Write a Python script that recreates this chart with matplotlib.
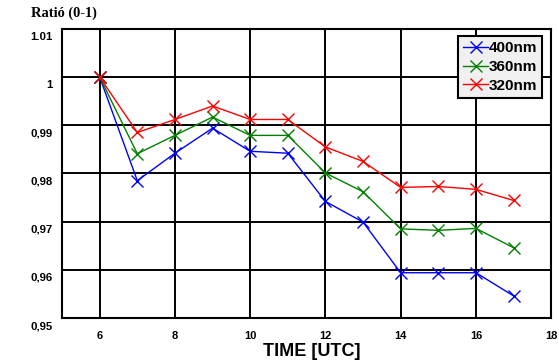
import matplotlib.pyplot as plt
import matplotlib.transforms as mtransforms

# ── data ─────────────────────────────────────────────
hours = [6, 7, 8, 9, 10, 11, 12, 13, 14, 15, 16, 17]
ratio_400 = [1.0, 0.9785, 0.9842, 0.9894, 0.9846, 0.9842, 0.9742, 0.9699, 0.9594, 0.9594, 0.9594, 0.9546]
ratio_360 = [1.0, 0.9841, 0.9879, 0.9917, 0.9879, 0.9879, 0.9801, 0.9762, 0.9685, 0.9682, 0.9686, 0.9646]
ratio_320 = [1.0, 0.9885, 0.9912, 0.9940, 0.9912, 0.9912, 0.9855, 0.9825, 0.9771, 0.9773, 0.9767, 0.9744]

x_ticks = [6, 8, 10, 12, 14, 16, 18]
y_ticks = [0.95, 0.96, 0.97, 0.98, 0.99, 1.0, 1.01]
y_labels = ["0,95", "0,96", "0,97", "0,98", "0,99", "1", "1.01"]

SANS = ["Liberation Sans", "DejaVu Sans"]
SERIF = ["Liberation Serif", "DejaVu Serif"]

fig = plt.figure(figsize=(5.59, 3.61), dpi=100)
ax = fig.add_axes([0.111, 0.119, 0.875, 0.801])

series = [
    (ratio_400, "#0000ff", "400nm"),
    (ratio_360, "#008000", "360nm"),
    (ratio_320, "#ff0000", "320nm"),
]
for vals, col, lab in series:
    ax.plot(hours, vals, color=col, lw=1.0, marker="x", ms=9, mew=1.0, label=lab)

ax.set_xlim(5, 18)
ax.set_ylim(0.95, 1.01)
ax.set_xticks(x_ticks)
ax.set_yticks(y_ticks)
ax.set_yticklabels(y_labels)
ax.grid(True, color="black", lw=1.4)
ax.set_axisbelow(True)
ax.tick_params(length=0, labelsize=8.2, pad=7)
ax.tick_params(axis="x", labelsize=8, pad=9)
for lab in ax.get_xticklabels() + ax.get_yticklabels():
    lab.set_fontfamily(SANS)
    lab.set_fontweight("bold")

# y labels sit a little below their grid line
off = mtransforms.ScaledTranslation(0, -7 / 100, fig.dpi_scale_trans)
for lab in ax.get_yticklabels():
    lab.set_transform(lab.get_transform() + off)

for sp in ax.spines.values():
    sp.set_linewidth(1.5)

ax.set_xlabel("TIME [UTC]", fontsize=13, fontweight="bold", family=SANS)
ax.xaxis.set_label_coords(0.51, -0.085)
ax.xaxis.label.set_va("top")
fig.text(0.055, 0.945, "Ratió (0-1)", fontsize=10.4, fontweight="bold", family=SERIF,
         ha="left", va="bottom")

leg = ax.legend(loc="upper right", bbox_to_anchor=(0.982, 0.975), fancybox=False,
                framealpha=1, facecolor="#f0f0f0", edgecolor="black",
                prop={"family": SANS, "weight": "bold", "size": 11},
                handlelength=1.6, handletextpad=0.05, labelspacing=0.3,
                borderpad=0.35, borderaxespad=0)
leg.get_frame().set_linewidth(1.5)

plt.savefig("out.png", dpi=100)
plt.close()
